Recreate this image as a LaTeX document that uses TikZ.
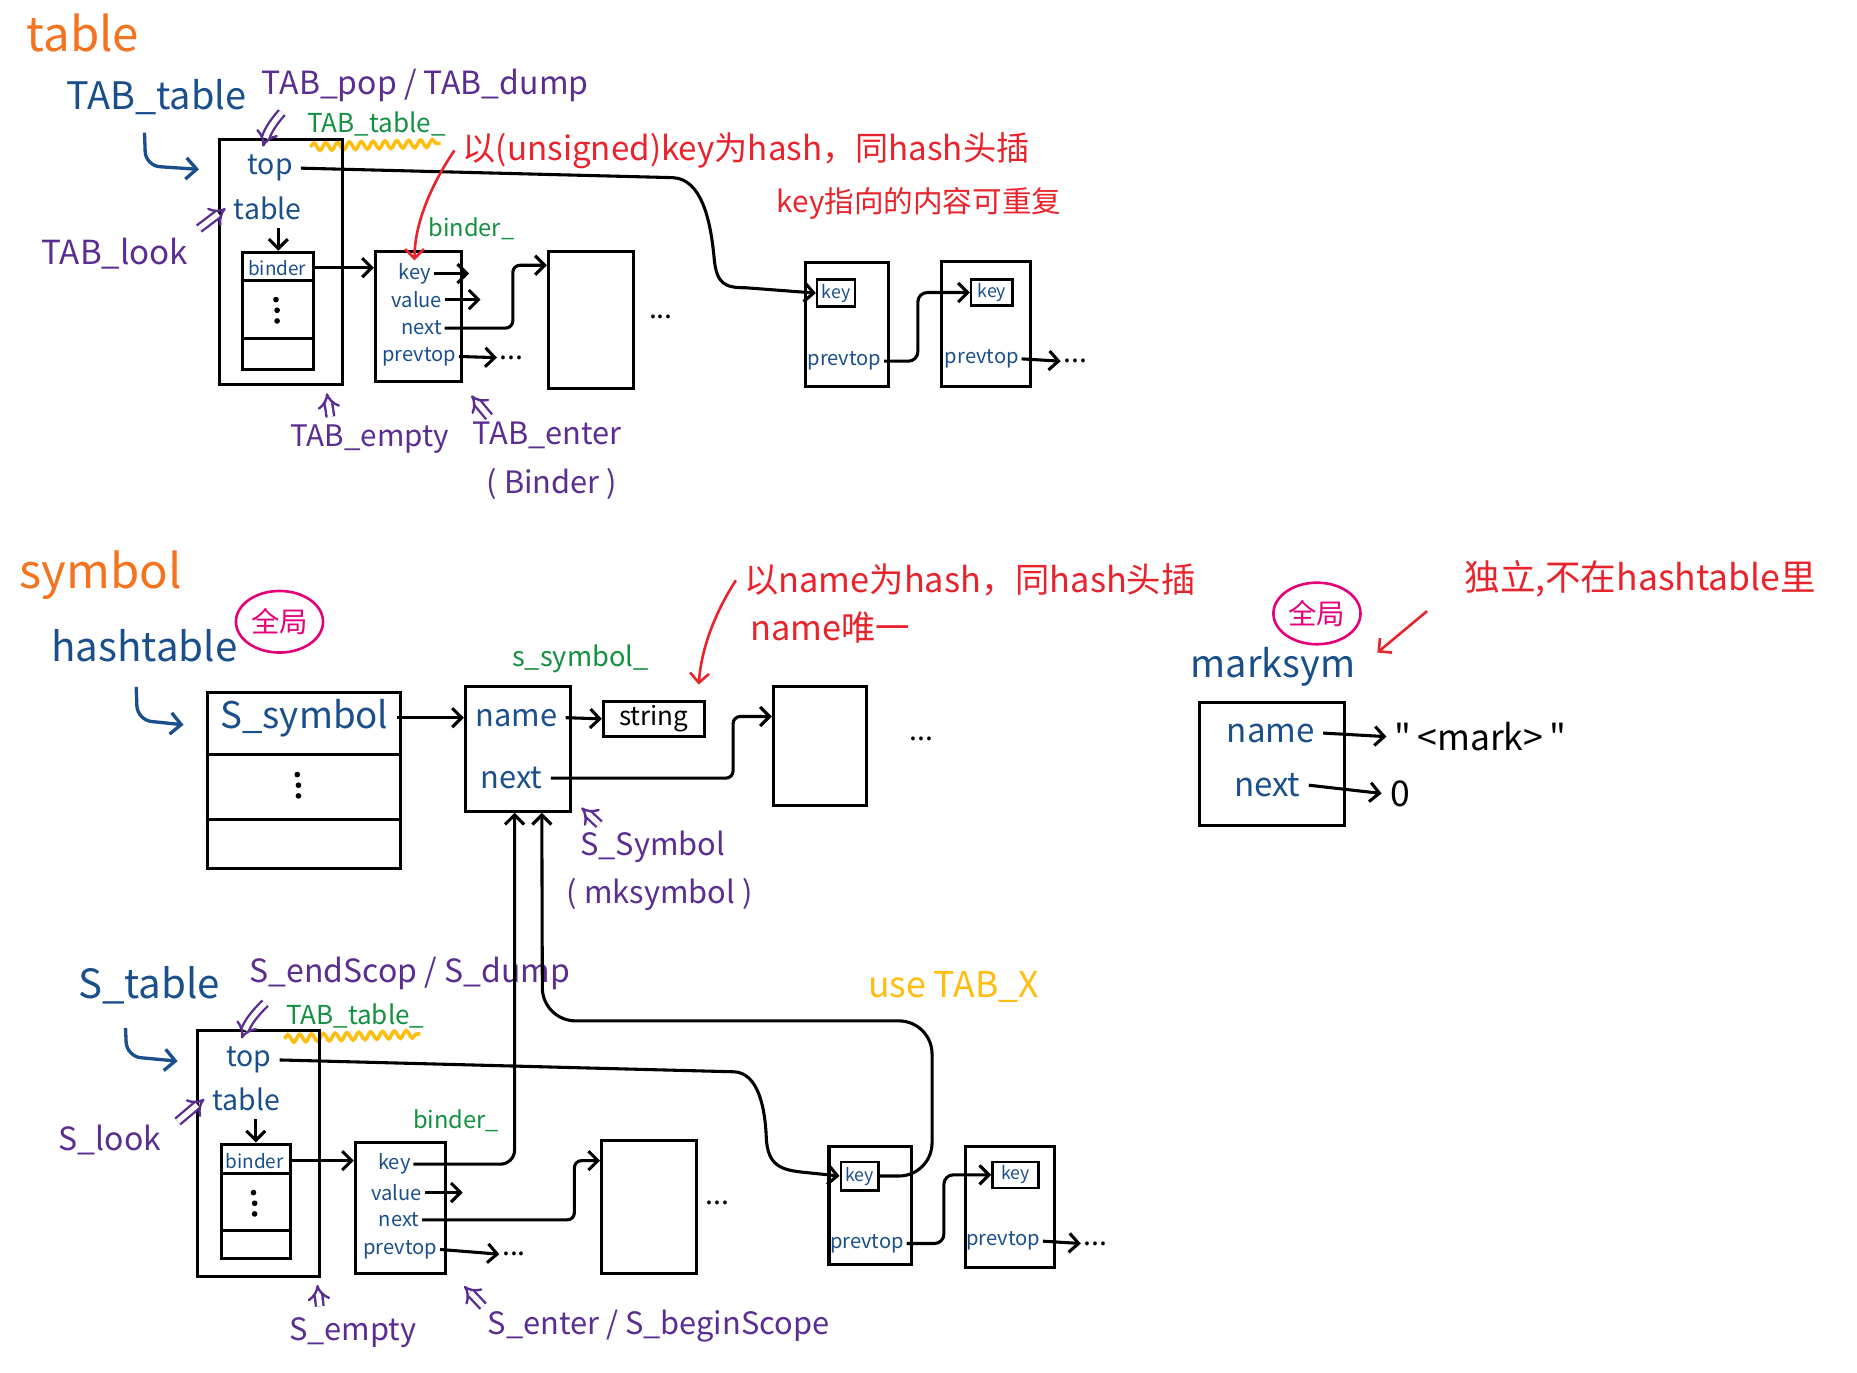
\documentclass[tikz,border=0pt]{standalone}
\usepackage{fontspec}
\setmainfont{Noto Sans CJK SC}
\usetikzlibrary{arrows.meta,fit,shapes.geometric,decorations.pathmorphing,calc}
\definecolor{cOr}{HTML}{F4731F}
\definecolor{cBl}{HTML}{1A4F8B}
\definecolor{cPu}{HTML}{5A2D91}
\definecolor{cGr}{HTML}{139140}
\definecolor{cRe}{HTML}{E8232B}
\definecolor{cPk}{HTML}{E5007A}
\definecolor{cYe}{HTML}{FFBE0F}
\newcommand\myfs[1]{\fontsize{#1}{#1}\selectfont}
\begin{document}
\begin{tikzpicture}[x=0.5pt,y=-0.5pt,
  box/.style={draw=black,line width=1.3pt,inner sep=0pt},
  kbox/.style={draw=black,line width=1.1pt,inner sep=0pt,text=cBl,font=\myfs{7.5}},
  fld/.style={text=cBl,font=\myfs{8.5},inner sep=1pt},
  ln/.style={draw=black,line width=1.3pt},
  arr/.style={ln,-{Straight Barb[length=4pt,width=8pt]}},
  bluearr/.style={draw=cBl,line width=1.4pt,-{Straight Barb[length=4.5pt,width=9pt]}},
  redarr/.style={draw=cRe,line width=1.1pt,-{Straight Barb[length=4pt,width=8pt]}},
  purdbl/.style={draw=cPu,double=white,double distance=2.2pt,line width=1pt,-{Implies}},
  wave/.style={draw=cYe,line width=1.5pt,decorate,decoration={snake,amplitude=1.6pt,segment length=5pt}},
  glob/.style={ellipse,draw=cPk,line width=1.1pt,text=cPk,font=\myfs{12},inner sep=1pt,minimum width=34pt,minimum height=26pt},
  dotsn/.style={font=\myfs{12},inner sep=1pt},
  vdot/.style={circle,fill=black,inner sep=0pt,minimum size=2.4pt}
]
\useasboundingbox (0,0) rectangle (1568,1159);

% ================= table section =================
\node[text=cOr,font=\myfs{20}] (hTable) at (70,28) {table};
\node[text=cBl,font=\myfs{16}] (lTT) at (132,82) {TAB\_table};
\node[text=cPu,font=\myfs{13.5}] (lPop) at (359,72) {TAB\_pop / TAB\_dump};
\node[text=cGr,font=\myfs{11}] (lTT2) at (318,105) {TAB\_table\_};
\coordinate (w1a) at (262,124); \coordinate (w1b) at (372,121);
\draw[wave] (w1a) -- (w1b);
\node[box,fit={(185,118) (289,325)}] (TT) {};
\node[text=cBl,font=\myfs{12}] (tTop) at (228,142) {top};
\node[text=cBl,font=\myfs{12}] (tTab) at (226,176) {table};
\node[text=cPu,font=\myfs{14}] (lLook) at (97,214) {TAB\_look};
\node[box,fit={(205,213) (265,312)}] (BA) {};
\draw[ln] (BA.west |- 0,237) -- (BA.east |- 0,237);
\draw[ln] (BA.west |- 0,286) -- (BA.east |- 0,286);
\node[text=cBl,font=\myfs{8}] (bA) at (234,226) {binder};
\node[vdot] (dA1) at (233,253) {};
\node[vdot] (dA2) at (234,262) {};
\node[vdot] (dA3) at (234,271) {};
\node[box,fit={(317,212) (390,322)}] (BN) {};
\node[fld] (fk) at (350,231) {key};
\node[fld] (fv) at (352,253) {value};
\node[fld] (fn) at (356,277) {next};
\node[fld] (fp) at (354,301) {prevtop};
\node[text=cGr,font=\myfs{10}] (lBN) at (398,193) {binder\_};
\node[box,fit={(463,212) (535,328)}] (B1) {};
\node[dotsn] (e1) at (432,302) {...};
\node[dotsn] (e2) at (558,268) {...};
\node[box,fit={(680,222) (750,326)}] (N1) {};
\node[kbox,minimum width=16pt,minimum height=11.5pt] (K1) at (706,247.5) {key};
\node[fld] (P1) at (713,305) {prevtop};
\node[box,fit={(795,221) (870,326)}] (N2) {};
\node[kbox,minimum width=17.5pt,minimum height=11pt] (K2) at (837.5,247) {key};
\node[fld] (P2) at (829,303) {prevtop};
\node[dotsn] (e3) at (908,305) {...};
\node[text=cRe,font=\myfs{14}] (R1) at (630,127) {以(unsigned)key为hash，同hash头插};
\node[text=cRe,font=\myfs{12.5}] (R2) at (776,172) {key指向的内容可重复};
\node[text=cPu,font=\myfs{12.5}] (lEmpty) at (312,371) {TAB\_empty};
\node[text=cPu,font=\myfs{13}] (lEnter) at (462,368) {TAB\_enter};
\node[text=cPu,font=\myfs{13}] (lBinder) at (466,409) {( Binder )};

\coordinate (h1s) at (122,112); \coordinate (h1e) at (168,143);
\draw[bluearr,rounded corners=6pt] (h1s) -- (123,140) -- (h1e);
\coordinate (p1s) at (238,95);
\draw[purdbl] (p1s) to[bend right=12] ([xshift=-3pt]tTop.north);
\coordinate (lk1) at (168,193);
\draw[purdbl] (lk1) -- (tTab.west);
\draw[arr] (BA.north |- tTab.south) -- (BA.north);
\draw[arr] (bA.east) -- (BN.west |- bA.east);
\draw[arr] (fk.east) -- ++(30,0);
\draw[arr] (fv.east) -- ++(30,0);
\draw[arr,rounded corners=3pt] (fn.east) -| (433,250) |- (B1.west |- 0,224);
\draw[arr] (fp.east) -- (e1.west);
\draw[arr] (tTop.east) -- (568,150) .. controls (592,151) and (600,185) .. (603,218)
  .. controls (605,240) and (612,243) .. (630,243) -- (K1.west);
\draw[arr,rounded corners=4pt] (P1.east) -| (775,270) |- (K2.west);
\draw[arr] (P2.east) -- (e3.west);
\draw[redarr] (R1.west) .. controls (368,150) and (350,185) .. (fk.north);
\coordinate (u1s) at (279,352); \coordinate (u1e) at (276,332);
\draw[purdbl] (u1s) -- (u1e);
\coordinate (u2s) at (413,352); \coordinate (u2e) at (398,334);
\draw[purdbl] (u2s) -- (u2e);

% ================= symbol section =================
\node[text=cOr,font=\myfs{20}] (hSym) at (85,486) {symbol};
\node[text=cBl,font=\myfs{17}] (lHT) at (122,545) {hashtable};
\node[glob] (g1) at (236,525) {全局};
\coordinate (h2s) at (115,580); \coordinate (h2e) at (155,612);
\draw[bluearr,rounded corners=6pt] (h2s) -- (116,608) -- (h2e);
\node[box,fit={(175,585) (338,733)}] (HT) {};
\draw[ln] (HT.west |- 0,637) -- (HT.east |- 0,637);
\draw[ln] (HT.west |- 0,692) -- (HT.east |- 0,692);
\node[text=cBl,font=\myfs{15.5}] (tSS) at (257,606) {S\_symbol};
\node[vdot] (dB1) at (251,654) {};
\node[vdot] (dB2) at (252,663) {};
\node[vdot] (dB3) at (252,672) {};
\node[box,fit={(393,580) (482,685)}] (SN) {};
\node[text=cBl,font=\myfs{13}] (sName) at (436,606) {name};
\node[text=cBl,font=\myfs{13}] (sNext) at (432,657) {next};
\node[text=cGr,font=\myfs{11.5}] (lSN) at (490,556) {s\_symbol\_};
\node[box,minimum width=42.5pt,minimum height=15pt,font=\myfs{11}] (SB) at (552,607) {string};
\node[box,fit={(653,580) (732,680)}] (B2) {};
\node[dotsn] (e4) at (778,624) {...};
\node[text=cRe,font=\myfs{14.5}] (R3) at (819,490) {以name为hash，同hash头插};
\node[text=cRe,font=\myfs{14.5}] (R4) at (701,530) {name唯一};
\node[text=cPu,font=\myfs{13}] (lSS) at (551,715) {S\_Symbol};
\node[text=cPu,font=\myfs{13}] (lMk) at (557,755) {( mksymbol )};
\draw[arr] (tSS.east) -- (SN.west |- tSS.east);
\draw[arr] (sName.east) -- (SB.west);
\draw[arr,rounded corners=3pt] (sNext.east) -| (619,630) |- (B2.west |- 0,605);
\coordinate (r3e) at (590,578);
\draw[redarr] (R3.west) .. controls (602,520) and (592,550) .. (r3e);
\coordinate (u3s) at (506,696); \coordinate (u3e) at (491,682);
\draw[purdbl] (u3s) -- (u3e);

% marksym
\node[glob] (g2) at (1112,518) {全局};
\node[text=cRe,font=\myfs{15}] (R5) at (1385,489) {独立,不在hashtable里};
\coordinate (r5s) at (1205,516); \coordinate (r5e) at (1163,551);
\draw[redarr] (r5s) -- (r5e);
\node[text=cBl,font=\myfs{16}] (lMS) at (1075,563) {marksym};
\node[box,fit={(1013,593) (1135,697)}] (MS) {};
\node[text=cBl,font=\myfs{14}] (mName) at (1073,619) {name};
\node[text=cBl,font=\myfs{14}] (mNext) at (1070,663) {next};
\node[font=\myfs{15}] (mStr) at (1250,622) {\textquotedbl\,<mark>\,\textquotedbl};
\node[font=\myfs{15}] (mZero) at (1182,670) {0};
\draw[arr] (mName.east) -- (mStr.west);
\draw[arr] (mNext.east) -- (mZero.west);

% ================= S_table section =================
\node[text=cBl,font=\myfs{17}] (lST) at (126,832) {S\_table};
\node[text=cPu,font=\myfs{13.5}] (lEnd) at (346,822) {S\_endScop / S\_dump};
\node[text=cGr,font=\myfs{11}] (lTT3) at (300,858) {TAB\_table\_};
\coordinate (w2a) at (240,877); \coordinate (w2b) at (355,873);
\draw[wave] (w2a) -- (w2b);
\node[box,fit={(167,870) (270,1078)}] (ST) {};
\node[text=cBl,font=\myfs{12}] (tTop2) at (210,895) {top};
\node[text=cBl,font=\myfs{12}] (tTab2) at (208,928) {table};
\node[text=cPu,font=\myfs{13.5}] (lLook2) at (93,963) {S\_look};
\node[box,fit={(187,966) (245,1063)}] (BA2) {};
\draw[ln] (BA2.west |- 0,991) -- (BA2.east |- 0,991);
\draw[ln] (BA2.west |- 0,1039) -- (BA2.east |- 0,1039);
\node[text=cBl,font=\myfs{8}] (bA2) at (215,980) {binder};
\node[vdot] (dC1) at (214,1007) {};
\node[vdot] (dC2) at (215,1016) {};
\node[vdot] (dC3) at (215,1025) {};
\node[box,fit={(300,965) (376,1075)}] (BN2) {};
\node[fld] (fk2) at (333,983) {key};
\node[fld] (fv2) at (335,1007) {value};
\node[fld] (fn2) at (337,1030) {next};
\node[fld] (fp2) at (338,1055) {prevtop};
\node[text=cGr,font=\myfs{10}] (lBN2) at (385,946) {binder\_};
\node[box,fit={(508,963) (588,1075)}] (B3) {};
\node[dotsn] (e5) at (434,1059) {...};
\node[dotsn] (e6) at (606,1016) {...};
\node[box,fit={(700,968) (770,1068)}] (N3) {};
\node[kbox,minimum width=16pt,minimum height=12pt] (K3) at (726,993) {key};
\node[fld] (P3) at (732,1050) {prevtop};
\node[box,fit={(815,968) (890,1070)}] (N4) {};
\node[kbox,minimum width=19.5pt,minimum height=11pt] (K4) at (857.5,992) {key};
\node[fld] (P4) at (847,1048) {prevtop};
\node[dotsn] (e7) at (925,1050) {...};
\node[text=cPu,font=\myfs{13}] (lEmpty2) at (298,1125) {S\_empty};
\node[text=cPu,font=\myfs{13}] (lEnter2) at (556,1120) {S\_enter / S\_beginScope};
\node[text=cYe,font=\myfs{15}] (lUse) at (805,833) {use TAB\_X};

\coordinate (h3s) at (106,868); \coordinate (h3e) at (150,896);
\draw[bluearr,rounded corners=6pt] (h3s) -- (107,892) -- (h3e);
\coordinate (p3s) at (224,847);
\draw[purdbl] (p3s) to[bend right=12] ([xshift=-3pt]tTop2.north);
\coordinate (lk2) at (150,947);
\draw[purdbl] (lk2) -- (tTab2.west);
\draw[arr] (BA2.north |- tTab2.south) -- (BA2.north);
\draw[arr] (bA2.east) -- (BN2.west |- bA2.east);
\draw[arr,rounded corners=6pt] (fk2.east) -| ([xshift=-1.5pt]SN.south);
\draw[arr] (fv2.east) -- ++(32,0);
\draw[arr,rounded corners=3pt] (fn2.east) -| (485,1000) |- (B3.west |- 0,980);
\draw[arr] (fp2.east) -- (e5.west);
\draw[arr] (tTop2.east) -- (620,905) .. controls (640,906) and (646,935) .. (647,960)
  .. controls (648,985) and (660,988) .. (680,990) -- (K3.west);
\draw[arr,rounded corners=14pt] (K3.east) -- (787,993) -- (787,862) -- (458,862) -- ([xshift=10pt]SN.south);
\draw[arr,rounded corners=4pt] (P3.east) -| (797,1020) |- (K4.west);
\draw[arr] (P4.east) -- (e7.west);
\coordinate (u4s) at (270,1103); \coordinate (u4e) at (268,1085);
\draw[purdbl] (u4s) -- (u4e);
\coordinate (u5s) at (408,1103); \coordinate (u5e) at (392,1086);
\draw[purdbl] (u5s) -- (u5e);
\end{tikzpicture}
\end{document}
